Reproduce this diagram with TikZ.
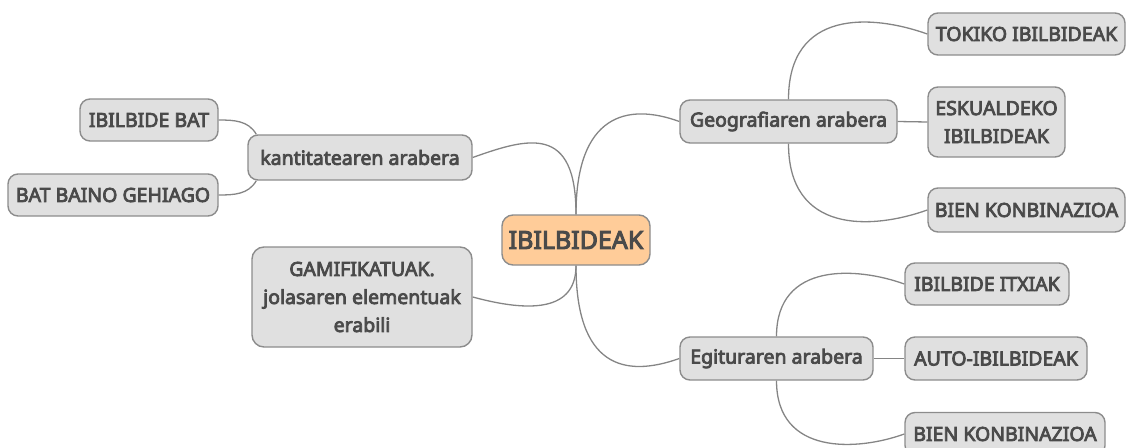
\documentclass[tikz,border=0pt]{standalone}
\usepackage{fontspec}
\setmainfont{Noto Sans}[AutoFakeBold=4]
\usetikzlibrary{positioning}
\definecolor{mmgrey}{HTML}{E0E0E0}
\definecolor{mmedge}{HTML}{8C8C8C}
\definecolor{mmtext}{HTML}{4A4A4A}
\definecolor{mmroot}{HTML}{FFCC99}
\definecolor{mmline}{HTML}{858585}

\begin{document}
\begin{tikzpicture}[x=1pt, y=-1pt,
  topic/.style={rectangle, rounded corners=10pt, draw=mmedge, line width=1.4pt, fill=mmgrey, text=mmtext, align=center, inner sep=2pt, font=\fontsize{19.5}{28}\selectfont\bfseries},
  roottopic/.style={topic, fill=mmroot, rounded corners=11pt, font=\fontsize{25}{28}\selectfont\bfseries},
  link/.style={draw=mmline, line width=1.3pt}]
\useasboundingbox (0,0) rectangle (1126,447);
\clip (0,0) rectangle (1126,447);
% centre
\node[roottopic, minimum width=148pt, minimum height=50pt] (root) at (576,240) {IBILBIDEAK};
% left branches
\node[topic, minimum width=224pt, minimum height=45pt] (kant) at (360,157.5) {kantitatearen arabera};
\node[topic, minimum width=138pt, minimum height=42pt] (bat) at (149,120) {IBILBIDE BAT};
\node[topic, minimum width=210pt, minimum height=42pt] (gehiago) at (113,195) {BAT BAINO GEHIAGO};
\node[topic, minimum width=220pt, minimum height=100pt, rounded corners=12pt] (gamif) at (362,297) {GAMIFIKATUAK.\\ jolasaren elementuak\\ erabili};
% right branches
\node[topic, minimum width=217pt, minimum height=43pt] (geo) at (788.5,121.5) {Geografiaren arabera};
\node[topic, minimum width=197pt, minimum height=42pt] (tokiko) at (1026.5,34) {TOKIKO IBILBIDEAK};
\node[topic, minimum width=137pt, minimum height=70pt] (eskual) at (996.5,122) {ESKUALDEKO\\ IBILBIDEAK};
\node[topic, minimum width=197pt, minimum height=44pt] (bienA) at (1026.5,210) {BIEN KONBINAZIOA};
\node[topic, minimum width=193pt, minimum height=43pt] (egit) at (776.5,358.5) {Egituraren arabera};
\node[topic, minimum width=164pt, minimum height=42pt] (itxiak) at (987,284) {IBILBIDE ITXIAK};
\node[topic, minimum width=182pt, minimum height=43pt] (auto) at (996,358.5) {AUTO-IBILBIDEAK};
\node[topic, minimum width=200pt, minimum height=43pt] (bienB) at (1005,434) {BIEN KONBINAZIOA};
% connectors from the centre
\draw[link] (root.north) .. controls +(0,-90) and +(56,-20) .. (kant.east);
\draw[link] (root.north) .. controls +(0,-100) and +(-52,-19) .. (geo.west);
\draw[link] (root.south) .. controls +(0,50) and +(48,13) .. (gamif.east);
\draw[link] (root.south) .. controls +(0,100) and +(-56,20) .. (egit.west);
% kantitatearen children
\draw[link] ([xshift=9pt]kant.north west) to[out=120, in=0] (bat.east);
\draw[link] ([xshift=9pt]kant.south west) to[out=-120, in=0] (gehiago.east);
% geografiaren children
\draw[link] (geo.north) .. controls +(0,-90) and +(-56,-20) .. (tokiko.west);
\draw[link] (geo.east) -- (eskual.west);
\draw[link] (geo.south) .. controls +(0,90) and +(-56,20) .. (bienA.west);
% egituraren children
\draw[link] (egit.north) .. controls +(0,-75) and +(-47,-17) .. (itxiak.west);
\draw[link] (egit.east) -- (auto.west);
\draw[link] (egit.south) .. controls +(0,75) and +(-47,17) .. (bienB.west);
\end{tikzpicture}
\end{document}
